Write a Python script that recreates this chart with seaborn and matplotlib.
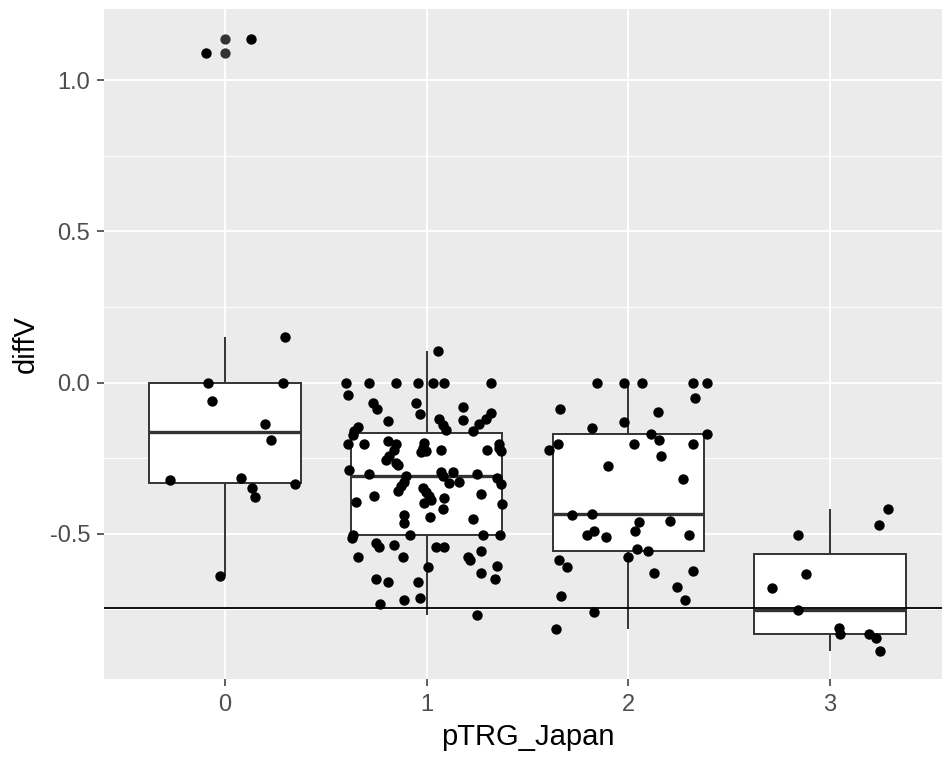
import numpy as np
import pandas as pd
import matplotlib
matplotlib.use("Agg")
import matplotlib.pyplot as plt
import seaborn as sns

# ---------------- data ----------------
categories = [0, 1, 2, 3]

g0_vals = [1.088, 1.135, 0.151, 0.0, 0.0, -0.062, -0.136, -0.19, -0.323, -0.317,
           -0.349, -0.377, -0.335, -0.638]
g0_jit = [-0.093, 0.127, 0.297, -0.084, 0.287, -0.063, 0.196, 0.228, -0.274, 0.077,
          0.135, 0.147, 0.348, -0.023]

g1_vals = [0.0, 0.0, 0.0, 0.0, 0.0, 0.0, 0.0, 0.106,
           -0.042, -0.067, -0.089, -0.067, -0.103, -0.082, -0.123, -0.100, -0.12,
           -0.137, -0.161, -0.128, -0.147, -0.161, -0.172, -0.120, -0.139, -0.156,
           -0.203, -0.203, -0.192, -0.203, -0.222, -0.244, -0.255, -0.266, -0.272,
           -0.2, -0.216, -0.231, -0.227, -0.222, -0.222, -0.203, -0.227, -0.216,
           -0.288, -0.302, -0.310, -0.297, -0.297, -0.31, -0.302, -0.316,
           -0.330, -0.343, -0.357, -0.332, -0.330, -0.334, -0.395, -0.376, -0.349,
           -0.363, -0.376, -0.398, -0.387, -0.382, -0.418, -0.369, -0.402, -0.437,
           -0.465, -0.443, -0.451,
           -0.503, -0.514, -0.503, -0.503, -0.503, -0.529, -0.544, -0.536, -0.578,
           -0.578, -0.545, -0.545, -0.556, -0.577, -0.586, -0.611, -0.605, -0.630,
           -0.650, -0.649, -0.658, -0.658, -0.711, -0.719, -0.732, -0.768]
g1_jit = [-0.40, -0.285, -0.153, -0.045, 0.03, 0.087, 0.318, 0.054,
          -0.391, -0.264, -0.248, -0.053, -0.031, 0.178, 0.178, 0.318, 0.294,
          0.261, 0.231, -0.193, -0.342, -0.359, -0.366, 0.063, 0.079, 0.096,
          -0.391, -0.312, -0.193, -0.153, -0.161, -0.186, -0.202, -0.153, -0.144,
          -0.012, -0.02, -0.028, -0.004, 0.069, 0.299, 0.36, 0.368, 0.36,
          -0.383, -0.284, -0.102, 0.071, 0.129, 0.079, 0.249, 0.351,
          -0.114, -0.127, -0.144, 0.112, 0.162, 0.368, -0.35, -0.262, -0.02,
          -0.003, 0.01, -0.012, 0.021, 0.088, 0.079, 0.269, 0.376, -0.11,
          -0.11, 0.018, 0.228,
          -0.366, -0.371, -0.081, 0.277, 0.365, -0.251, -0.234, -0.16, -0.342,
          -0.119, 0.046, 0.088, 0.269, 0.203, 0.216, 0.005, 0.348, 0.269,
          0.34, -0.251, -0.193, -0.041, -0.031, -0.11, -0.231, 0.249]

g2_vals = [0.0, 0.0, 0.0, 0.0, 0.0,
           -0.051, -0.089, -0.096, -0.129, -0.150, -0.169, -0.169, -0.189, -0.203,
           -0.222, -0.203, -0.203, -0.244, -0.277, -0.319,
           -0.433, -0.437, -0.461, -0.490, -0.457, -0.503, -0.490, -0.511, -0.503,
           -0.551, -0.578, -0.557, -0.588, -0.611, -0.630, -0.623, -0.677, -0.719,
           -0.704, -0.759, -0.815]
g2_jit = [-0.153, -0.021, 0.069, 0.32, 0.391,
          0.33, -0.34, 0.149, -0.021, -0.182, 0.391, 0.11, 0.152, -0.351,
          -0.395, 0.028, 0.32, 0.162, -0.1, 0.271,
          -0.178, -0.281, 0.053, 0.031, 0.209, -0.203, -0.170, -0.112, 0.3,
          0.041, 0.0, 0.099, -0.343, -0.302, 0.127, 0.32, 0.239, 0.279,
          -0.332, -0.17, -0.36]

g3_vals = [-0.503, -0.470, -0.417, -0.632, -0.678, -0.753, -0.810, -0.832, -0.831,
           -0.845, -0.886]
g3_jit = [-0.158, 0.241, 0.290, -0.119, -0.287, -0.158, 0.043, 0.051, 0.194,
          0.227, 0.248]

ref_line = -0.745
y_ticks = [-0.5, 0.0, 0.5, 1.0]
y_ticklabels = ["-0.5", "0.0", "0.5", "1.0"]
x_ticklabels = ["0", "1", "2", "3"]
x_title = "pTRG_Japan"
y_title = "diffV"

# ---------------- build table ----------------
rows = []
for cat, vals, jit in zip(categories, [g0_vals, g1_vals, g2_vals, g3_vals],
                          [g0_jit, g1_jit, g2_jit, g3_jit]):
    for v, j in zip(vals, jit):
        rows.append({"pTRG_Japan": cat, "diffV": v, "jitter": j})
df = pd.DataFrame(rows)
df["x_jit"] = df["pTRG_Japan"] + df["jitter"]

# ---------------- plot ----------------
W, H, DPI = 942, 758, 100
fig = plt.figure(figsize=(W / DPI, H / DPI), dpi=DPI)
px_l, px_r, px_t, px_b = 104, 951, 9, 679
ax = fig.add_axes([px_l / W, 1 - px_b / H, (px_r - px_l) / W, (px_b - px_t) / H])

ax.set_facecolor("#EBEBEB")
for s in ax.spines.values():
    s.set_visible(False)
ax.set_axisbelow(True)

sns.boxplot(data=df, x="pTRG_Japan", y="diffV", native_scale=True, ax=ax,
            width=0.75, color="white", saturation=1, linecolor="#333333",
            linewidth=1.4, showcaps=False, fliersize=7.4,
            flierprops=dict(marker="o", markerfacecolor="#333333",
                            markeredgecolor="#333333", markeredgewidth=0),
            medianprops=dict(linewidth=2.4, color="#333333"),
            zorder=2)

ax.axhline(ref_line, color="black", linewidth=1.3, zorder=3)

sns.scatterplot(data=df, x="x_jit", y="diffV", color="black", s=56,
                linewidth=0, ax=ax, zorder=4, legend=False)

ax.set_xlim(-0.6, 3.6)
ax.set_ylim(-0.98, 1.235)

ax.set_xticks(categories)
ax.set_xticklabels(x_ticklabels)
ax.set_yticks(y_ticks)
ax.set_yticklabels(y_ticklabels)
ax.set_yticks([-0.75, -0.25, 0.25, 0.75], minor=True)

ax.grid(which="major", color="white", linewidth=1.4)
ax.grid(which="minor", axis="y", color="white", linewidth=0.7)
ax.tick_params(axis="both", which="major", length=5, width=1.1, color="#333333",
               labelcolor="#4D4D4D", labelsize=17)
ax.tick_params(axis="x", which="major", pad=6)
ax.tick_params(axis="y", which="major", pad=5)
ax.tick_params(axis="both", which="minor", length=0)
for lab in ax.get_xticklabels() + ax.get_yticklabels():
    lab.set_fontfamily("Liberation Sans")

ax.set_xlabel(x_title, fontsize=21, family="Liberation Sans", color="black")
ax.set_ylabel(y_title, fontsize=21, family="Liberation Sans", color="black")
ax.xaxis.set_label_coords(0.5, (px_b - 723) / (px_b - px_t))
ax.yaxis.set_label_coords((40 - px_l) / (px_r - px_l), 0.5)

fig.savefig("out.png", dpi=DPI)
